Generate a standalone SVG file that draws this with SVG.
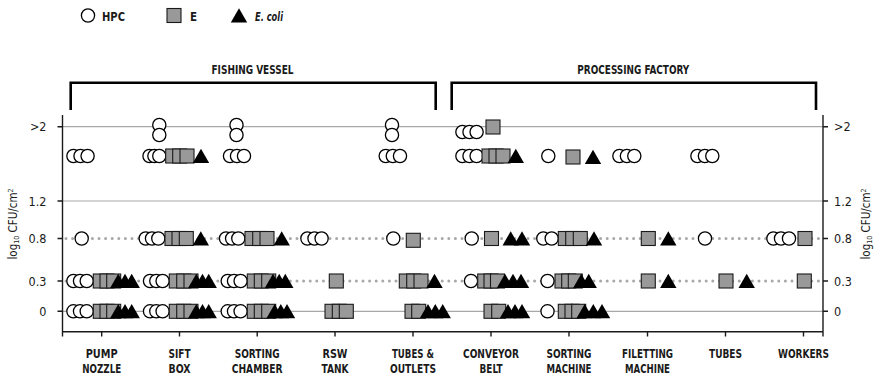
<svg xmlns="http://www.w3.org/2000/svg" xmlns:xlink="http://www.w3.org/1999/xlink" width="874" height="377" viewBox="0 0 874 377">
<style>
text{font-family:"DejaVu Sans Condensed","DejaVu Sans","Liberation Sans",sans-serif;fill:#1a1a1a}
.cat{font-size:12.8px;font-weight:bold;text-anchor:middle}
.sec{font-size:12px;font-weight:bold;text-anchor:middle}
.yl{font-size:12.5px;text-anchor:end}
.yr{font-size:12.5px;text-anchor:start}
.leg{font-size:11.5px;font-weight:bold}
.ttl{font-size:11.5px}
.grid{stroke:#a8a8a8;stroke-width:1.2;fill:none}
.dot{stroke:#a8a8a8;stroke-width:3;stroke-dasharray:0 6.6;stroke-linecap:round;fill:none}
.ax{stroke:#1a1a1a;stroke-width:1.4;fill:none}
.br{stroke:#000;stroke-width:2.6;fill:none}
</style>
<defs>
<circle id="c" r="6.6" fill="#fff" stroke="#000" stroke-width="1.3"/>
<rect id="s" x="-7" y="-7" width="14" height="14" fill="#999" stroke="#1a1a1a" stroke-width="1.1"/>
<path id="t" d="M0,-7.3 L8.2,7 L-8.2,7 Z" fill="#000"/>
</defs>
<rect width="874" height="377" fill="#fff"/>

<g id="legend">
<use href="#c" x="88" y="15.5"/>
<text class="leg" x="102" y="20.5" textLength="23" lengthAdjust="spacingAndGlyphs">HPC</text>
<use href="#s" x="174" y="15.5"/>
<text class="leg" x="190" y="20.5">E</text>
<use href="#t" x="239" y="15.5"/>
<text class="leg" x="255" y="20.5" font-style="italic" textLength="28" lengthAdjust="spacingAndGlyphs">E. coli</text>
</g>

<g id="sections">
<text class="sec" x="252.5" y="73.5" textLength="82" lengthAdjust="spacingAndGlyphs">FISHING VESSEL</text>
<path class="br" d="M70.7,110 V82.7 H435.7 V110"/>
<text class="sec" x="633.3" y="73.5" textLength="112" lengthAdjust="spacingAndGlyphs">PROCESSING FACTORY</text>
<path class="br" d="M451.7,110 V82.7 H816 V110"/>
</g>

<g id="grid">
<line class="grid" x1="62.5" y1="126.7" x2="823" y2="126.7"/>
<line class="grid" x1="62.5" y1="201" x2="823" y2="201"/>
<line class="dot" x1="66" y1="238.5" x2="823" y2="238.5"/>
<line class="dot" x1="66" y1="281" x2="823" y2="281"/>
<line class="grid" x1="62.5" y1="311.3" x2="823" y2="311.3"/>
</g>

<g id="axes">
<path class="ax" d="M62.5,115 V336.5 M823,115 V336.5 M62.5,331.7 H823"/>
<path class="ax" d="M57.5,126.7 H62.5 M57.5,201 H62.5 M57.5,238.5 H62.5 M57.5,281 H62.5 M57.5,311.3 H62.5"/>
<path class="ax" d="M823,126.7 H828 M823,201 H828 M823,238.5 H828 M823,281 H828 M823,311.3 H828"/>
<path class="ax" d="M101.7,331.7 V336.5 M179.5,331.7 V336.5 M257.2,331.7 V336.5 M335,331.7 V336.5 M413,331.7 V336.5 M491,331.7 V336.5 M569,331.7 V336.5 M647.5,331.7 V336.5 M725.5,331.7 V336.5 M803.5,331.7 V336.5"/>
<text class="yl" x="46.5" y="131.2">&gt;2</text>
<text class="yl" x="46.5" y="205.5">1.2</text>
<text class="yl" x="46.5" y="243">0.8</text>
<text class="yl" x="46.5" y="285.5">0.3</text>
<text class="yl" x="46.5" y="315.8">0</text>
<text class="yr" x="834" y="131.2">&gt;2</text>
<text class="yr" x="834" y="205.5">1.2</text>
<text class="yr" x="834" y="243">0.8</text>
<text class="yr" x="834" y="285.5">0.3</text>
<text class="yr" x="834" y="315.8">0</text>
<text class="ttl" transform="translate(16.5,224) rotate(-90)" text-anchor="middle">log<tspan font-size="7" dy="2">10</tspan><tspan dy="-2"> CFU/cm</tspan><tspan font-size="7" dy="-4">2</tspan></text>
<text class="ttl" transform="translate(870,224) rotate(-90)" text-anchor="middle">log<tspan font-size="7" dy="2">10</tspan><tspan dy="-2"> CFU/cm</tspan><tspan font-size="7" dy="-4">2</tspan></text>
</g>

<g id="labels">
<text class="cat" x="101.7" y="358" textLength="32" lengthAdjust="spacingAndGlyphs">PUMP</text>
<text class="cat" x="101.7" y="372.5" textLength="39" lengthAdjust="spacingAndGlyphs">NOZZLE</text>
<text class="cat" x="179.5" y="358" textLength="22" lengthAdjust="spacingAndGlyphs">SIFT</text>
<text class="cat" x="179.5" y="372.5" textLength="22" lengthAdjust="spacingAndGlyphs">BOX</text>
<text class="cat" x="257.2" y="358" textLength="45" lengthAdjust="spacingAndGlyphs">SORTING</text>
<text class="cat" x="257.2" y="372.5" textLength="51" lengthAdjust="spacingAndGlyphs">CHAMBER</text>
<text class="cat" x="335" y="358" textLength="25" lengthAdjust="spacingAndGlyphs">RSW</text>
<text class="cat" x="335" y="372.5" textLength="27" lengthAdjust="spacingAndGlyphs">TANK</text>
<text class="cat" x="413" y="358" textLength="42" lengthAdjust="spacingAndGlyphs">TUBES &amp;</text>
<text class="cat" x="413" y="372.5" textLength="46" lengthAdjust="spacingAndGlyphs">OUTLETS</text>
<text class="cat" x="491" y="358" textLength="56" lengthAdjust="spacingAndGlyphs">CONVEYOR</text>
<text class="cat" x="491" y="372.5" textLength="23" lengthAdjust="spacingAndGlyphs">BELT</text>
<text class="cat" x="569" y="358" textLength="45" lengthAdjust="spacingAndGlyphs">SORTING</text>
<text class="cat" x="569" y="372.5" textLength="45" lengthAdjust="spacingAndGlyphs">MACHINE</text>
<text class="cat" x="647.5" y="358" textLength="51" lengthAdjust="spacingAndGlyphs">FILETTING</text>
<text class="cat" x="647.5" y="372.5" textLength="45" lengthAdjust="spacingAndGlyphs">MACHINE</text>
<text class="cat" x="725.5" y="358" textLength="33" lengthAdjust="spacingAndGlyphs">TUBES</text>
<text class="cat" x="803.5" y="358" textLength="51" lengthAdjust="spacingAndGlyphs">WORKERS</text>
</g>

<g id="pump-nozzle">
<use href="#c" x="73.4" y="156"/><use href="#c" x="80.5" y="156"/><use href="#c" x="87.6" y="156"/>
<use href="#c" x="81.7" y="238.5"/>
<use href="#c" x="73.4" y="281"/><use href="#c" x="80" y="281"/><use href="#c" x="86.7" y="281"/>
<use href="#s" x="100.3" y="281"/><use href="#s" x="107" y="281"/><use href="#s" x="113.7" y="281"/>
<use href="#t" x="118.3" y="281"/><use href="#t" x="125" y="281"/><use href="#t" x="131.7" y="281"/>
<use href="#c" x="73.4" y="311.3"/><use href="#c" x="80" y="311.3"/><use href="#c" x="86.7" y="311.3"/>
<use href="#s" x="100.3" y="311.3"/><use href="#s" x="107" y="311.3"/><use href="#s" x="113.7" y="311.3"/>
<use href="#t" x="118.3" y="311.3"/><use href="#t" x="125" y="311.3"/><use href="#t" x="131.7" y="311.3"/>
</g>

<g id="sift-box">
<use href="#c" x="159.3" y="125"/><use href="#c" x="159.3" y="135"/>
<use href="#c" x="149.5" y="156"/><use href="#c" x="154.4" y="156"/><use href="#c" x="159.3" y="156"/>
<use href="#s" x="172.7" y="156"/><use href="#s" x="179.7" y="156"/><use href="#s" x="187" y="156"/>
<use href="#t" x="201" y="156"/>
<use href="#c" x="145.7" y="238.5"/><use href="#c" x="152" y="238.5"/><use href="#c" x="158.3" y="238.5"/>
<use href="#s" x="172" y="238.5"/><use href="#s" x="179" y="238.5"/><use href="#s" x="186.3" y="238.5"/>
<use href="#t" x="200.8" y="238.5"/>
<use href="#c" x="150" y="281"/><use href="#c" x="156.3" y="281"/><use href="#c" x="162.6" y="281"/>
<use href="#s" x="176.3" y="281"/><use href="#s" x="183.7" y="281"/><use href="#s" x="191" y="281"/>
<use href="#t" x="196.3" y="281"/><use href="#t" x="202.5" y="281"/><use href="#t" x="208.7" y="281"/>
<use href="#c" x="150" y="311.3"/><use href="#c" x="156.3" y="311.3"/><use href="#c" x="162.6" y="311.3"/>
<use href="#s" x="176.3" y="311.3"/><use href="#s" x="183.7" y="311.3"/><use href="#s" x="191" y="311.3"/>
<use href="#t" x="196.3" y="311.3"/><use href="#t" x="202.5" y="311.3"/><use href="#t" x="208.7" y="311.3"/>
</g>

<g id="sorting-chamber">
<use href="#c" x="236.5" y="125"/><use href="#c" x="236.5" y="135"/>
<use href="#c" x="230" y="156"/><use href="#c" x="237" y="156"/><use href="#c" x="244" y="156"/>
<use href="#c" x="226" y="238.5"/><use href="#c" x="232.1" y="238.5"/><use href="#c" x="238.3" y="238.5"/>
<use href="#s" x="252" y="238.5"/><use href="#s" x="259.7" y="238.5"/><use href="#s" x="267" y="238.5"/>
<use href="#t" x="281.7" y="238.5"/>
<use href="#c" x="227.7" y="281"/><use href="#c" x="234" y="281"/><use href="#c" x="240.6" y="281"/>
<use href="#s" x="254.3" y="281"/><use href="#s" x="261.3" y="281"/><use href="#s" x="268.7" y="281"/>
<use href="#t" x="273" y="281"/><use href="#t" x="279.2" y="281"/><use href="#t" x="285.3" y="281"/>
<use href="#c" x="227.7" y="311.3"/><use href="#c" x="234" y="311.3"/><use href="#c" x="240.6" y="311.3"/>
<use href="#s" x="254.3" y="311.3"/><use href="#s" x="261.3" y="311.3"/><use href="#s" x="268.7" y="311.3"/>
<use href="#t" x="274.7" y="311.3"/><use href="#t" x="280.8" y="311.3"/><use href="#t" x="287" y="311.3"/>
</g>

<g id="rsw-tank">
<use href="#c" x="307.4" y="238.5"/><use href="#c" x="314.5" y="238.5"/><use href="#c" x="321.6" y="238.5"/>
<use href="#s" x="336.3" y="281"/>
<use href="#s" x="332" y="311.3"/><use href="#s" x="339.3" y="311.3"/><use href="#s" x="346.3" y="311.3"/>
</g>

<g id="tubes-outlets">
<use href="#c" x="392" y="125"/><use href="#c" x="392" y="135"/>
<use href="#c" x="385.7" y="156"/><use href="#c" x="392.8" y="156"/><use href="#c" x="400" y="156"/>
<use href="#c" x="393.3" y="238.5"/>
<use href="#s" x="413.3" y="240.3"/>
<use href="#s" x="406.3" y="281"/><use href="#s" x="413.7" y="281"/><use href="#s" x="421" y="281"/>
<use href="#t" x="434.5" y="281"/>
<use href="#s" x="412" y="311.3"/><use href="#s" x="418.7" y="311.3"/>
<use href="#t" x="428" y="311.3"/><use href="#t" x="435.3" y="311.3"/><use href="#t" x="442.7" y="311.3"/>
</g>

<g id="conveyor-belt">
<use href="#c" x="462.4" y="132"/><use href="#c" x="469.5" y="132"/><use href="#c" x="476.6" y="132"/>
<use href="#s" x="493" y="127"/>
<use href="#c" x="462.4" y="156"/><use href="#c" x="469.5" y="156"/><use href="#c" x="476.6" y="156"/>
<use href="#s" x="489" y="156"/><use href="#s" x="496" y="156"/><use href="#s" x="503" y="156"/>
<use href="#t" x="515.8" y="156"/>
<use href="#c" x="471.7" y="238.5"/>
<use href="#s" x="491.5" y="238.5"/>
<use href="#t" x="510.7" y="238.5"/><use href="#t" x="522" y="238.5"/>
<use href="#c" x="471" y="281"/>
<use href="#s" x="484.7" y="281"/><use href="#s" x="491" y="281"/><use href="#s" x="497.5" y="281"/>
<use href="#t" x="505" y="281"/><use href="#t" x="513" y="281"/><use href="#t" x="521" y="281"/>
<use href="#s" x="491" y="311.3"/><use href="#s" x="498.7" y="311.3"/>
<use href="#t" x="508" y="311.3"/><use href="#t" x="515" y="311.3"/><use href="#t" x="522" y="311.3"/>
</g>

<g id="sorting-machine">
<use href="#c" x="548.3" y="156"/>
<use href="#s" x="573" y="157"/>
<use href="#t" x="593" y="157"/>
<use href="#c" x="543.3" y="238.5"/><use href="#c" x="551.7" y="238.5"/>
<use href="#s" x="565.3" y="238.5"/><use href="#s" x="572.7" y="238.5"/><use href="#s" x="580.3" y="238.5"/>
<use href="#t" x="594" y="238.5"/>
<use href="#c" x="547.5" y="281"/>
<use href="#s" x="562" y="281"/><use href="#s" x="568.7" y="281"/><use href="#s" x="575.3" y="281"/>
<use href="#t" x="581.3" y="281"/><use href="#t" x="588.7" y="281"/>
<use href="#c" x="547.5" y="311.3"/>
<use href="#s" x="565.3" y="311.3"/><use href="#s" x="572" y="311.3"/><use href="#s" x="578.7" y="311.3"/>
<use href="#t" x="584.7" y="311.3"/><use href="#t" x="593.3" y="311.3"/><use href="#t" x="602" y="311.3"/>
</g>

<g id="filetting-machine">
<use href="#c" x="619.4" y="156"/><use href="#c" x="626.9" y="156"/><use href="#c" x="634.3" y="156"/>
<use href="#s" x="648.3" y="238.5"/>
<use href="#t" x="668.3" y="238.5"/>
<use href="#s" x="648.3" y="281"/>
<use href="#t" x="668.3" y="281"/>
</g>

<g id="tubes">
<use href="#c" x="697.4" y="156"/><use href="#c" x="704.9" y="156"/><use href="#c" x="712.3" y="156"/>
<use href="#c" x="705" y="238.5"/>
<use href="#s" x="726" y="281"/>
<use href="#t" x="746.7" y="281"/>
</g>

<g id="workers">
<use href="#c" x="773.4" y="238.5"/><use href="#c" x="781" y="238.5"/><use href="#c" x="789" y="238.5"/>
<use href="#s" x="805" y="238.5"/>
<use href="#s" x="804.3" y="281"/>
</g>
</svg>
